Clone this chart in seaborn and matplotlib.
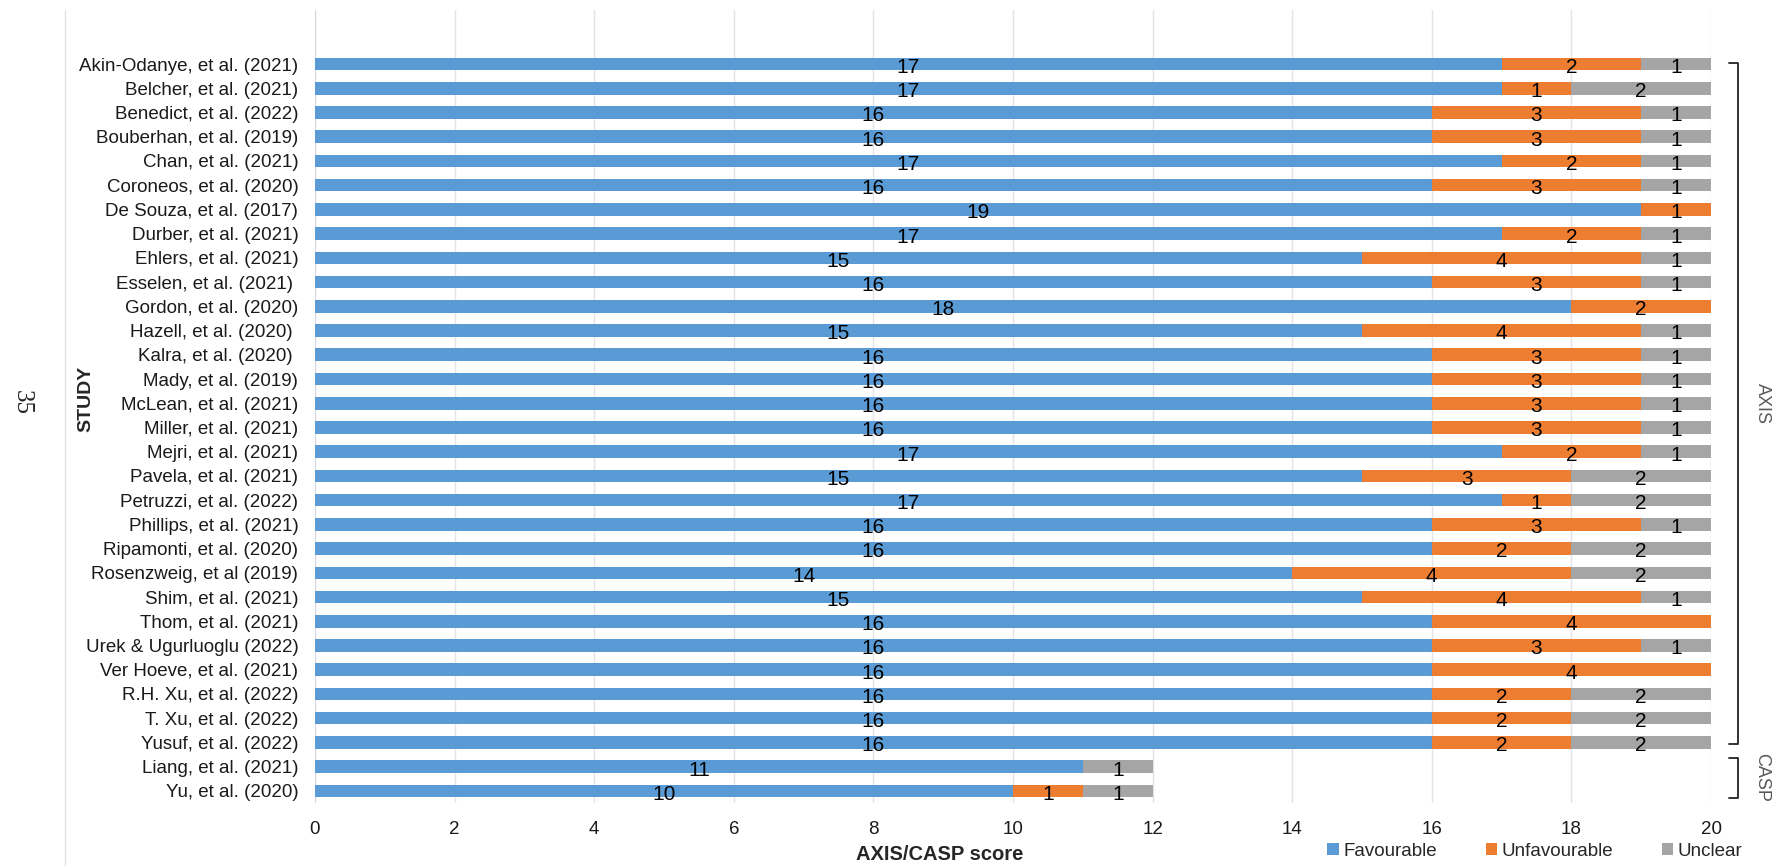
import matplotlib
matplotlib.use("Agg")
import matplotlib.pyplot as plt
import matplotlib.transforms as mtransforms
from matplotlib.patches import Patch
from matplotlib.lines import Line2D
import pandas as pd
import seaborn as sns

studies = [
    "Akin-Odanye, et al. (2021)", "Belcher, et al. (2021)", "Benedict, et al. (2022)",
    "Bouberhan, et al. (2019)", "Chan, et al. (2021)", "Coroneos, et al. (2020)",
    "De Souza, et al. (2017)", "Durber, et al. (2021)", "Ehlers, et al. (2021)",
    "Esselen, et al. (2021) ", "Gordon, et al. (2020)", "Hazell, et al. (2020) ",
    "Kalra, et al. (2020) ", "Mady, et al. (2019)", "McLean, et al. (2021)",
    "Miller, et al. (2021)", "Mejri, et al. (2021)", "Pavela, et al. (2021)",
    "Petruzzi, et al. (2022)", "Phillips, et al. (2021)", "Ripamonti, et al. (2020)",
    "Rosenzweig, et al (2019)", "Shim, et al. (2021)", "Thom, et al. (2021)",
    "Urek & Ugurluoglu (2022)", "Ver Hoeve, et al. (2021)", "R.H. Xu, et al. (2022)",
    "T. Xu, et al. (2022)", "Yusuf, et al. (2022)", "Liang, et al. (2021)",
    "Yu, et al. (2020)",
]
favourable = [17, 17, 16, 16, 17, 16, 19, 17, 15, 16, 18, 15, 16, 16, 16, 16,
              17, 15, 17, 16, 16, 14, 15, 16, 16, 16, 16, 16, 16, 11, 10]
unfavourable = [2, 1, 3, 3, 2, 3, 1, 2, 4, 3, 2, 4, 3, 3, 3, 3,
                2, 3, 1, 3, 2, 4, 4, 4, 3, 4, 2, 2, 2, 0, 1]
unclear = [1, 2, 1, 1, 1, 1, 0, 1, 1, 1, 0, 1, 1, 1, 1, 1,
           1, 2, 2, 1, 2, 2, 1, 0, 1, 0, 2, 2, 2, 1, 1]
series_names = ["Favourable", "Unfavourable", "Unclear"]
x_ticks = [0, 2, 4, 6, 8, 10, 12, 14, 16, 18, 20]
axis_group = 29  # first 29 studies are AXIS, rest CASP

colors = {"Favourable": "#5B9BD5", "Unfavourable": "#ED7D31", "Unclear": "#A5A5A5"}

df = pd.DataFrame({
    "study": studies,
    "Favourable": favourable,
    "Unfavourable": unfavourable,
    "Unclear": unclear,
})
df["fav_unf"] = df["Favourable"] + df["Unfavourable"]
df["total"] = df["fav_unf"] + df["Unclear"]

sns.set_theme(style="white")
plt.rcParams["font.family"] = ["Liberation Sans", "DejaVu Sans"]

W, H = 1791, 866
fig = plt.figure(figsize=(W / 100, H / 100), dpi=100)
ax = fig.add_axes([315 / W, 1 - 803 / H, (1711 - 315) / W, (803 - 10) / H])

# stacked horizontal bars: draw cumulative totals back to front
for col, name in [("total", "Unclear"), ("fav_unf", "Unfavourable"), ("Favourable", "Favourable")]:
    sns.barplot(data=df, x=col, y="study", orient="h", color=colors[name],
                width=0.52, saturation=1, ax=ax, zorder=3, linewidth=0)

# segment value labels
for i, row in df.iterrows():
    left = 0
    for name in series_names:
        v = row[name]
        if v > 0:
            ax.text(left + v / 2, i + 0.14, f"{v}", ha="center", va="center",
                    fontsize=15, color="black", zorder=5)
        left += v

ax.set_xlim(0, 20)
ax.set_ylim(30.5, -2.23)
ax.set_xticks(x_ticks)
ax.set_xticklabels([str(t) for t in x_ticks], fontsize=13.5, color="#1a1a1a")
ax.tick_params(axis="y", length=0, pad=12, labelsize=13.5, labelcolor="#1a1a1a")
ax.tick_params(axis="x", length=0, pad=13)
ax.grid(axis="x", color="#E3E3EA", linewidth=1, zorder=0)
ax.grid(axis="y", visible=False)
for s in ax.spines.values():
    s.set_visible(False)
ax.axvline(0, color="#D4D4DC", linewidth=1.2, zorder=1)

ax.set_ylabel("STUDY", fontsize=14, fontweight="bold", labelpad=0)
ax.yaxis.set_label_coords((94 - 315) / (1711 - 315), 0.51)
ax.set_xlabel("AXIS/CASP score", fontsize=14.5, fontweight="bold")
ax.xaxis.set_label_coords((940 - 315) / (1711 - 315), -(845 - 803) / (803 - 10))

# group brackets on the right: x in figure fraction, y in data rows
tr = mtransforms.blended_transform_factory(fig.transFigure, ax.transData)


def bracket(y0, y1, label, label_y):
    xs = [1729 / W, 1738 / W, 1738 / W, 1729 / W]
    ys = [y0, y0, y1, y1]
    ax.add_line(Line2D(xs, ys, transform=tr, color="#222222", linewidth=1.3, clip_on=False))
    ax.text(1762 / W, label_y, label, transform=tr, rotation=-90, ha="center",
            va="center", fontsize=13, color="#595959", clip_on=False)


bracket(-0.05, axis_group - 1 + 0.05, "AXIS", 14.0)
bracket(axis_group - 0.35, len(studies) - 1 + 0.3, "CASP", axis_group + 0.45)

# legend along the bottom right
handles = [Patch(facecolor=colors[n], edgecolor="none") for n in series_names]
fig.legend(handles, series_names, loc="center", bbox_to_anchor=(1535 / W, 1 - 851 / H),
           ncol=3, frameon=False, fontsize=13.5, handlelength=0.6, handleheight=0.6,
           handletextpad=0.25, columnspacing=2.6)

# page furniture: margin rule and page number
fig.add_artist(Line2D([65 / W, 65 / W], [0, 1 - 10 / H], transform=fig.transFigure,
                      color="#E2E2EA", linewidth=1))
fig.text(22 / W, 1 - 403 / H, "35", rotation=-90, ha="center", va="center",
         fontsize=18, family=["Liberation Serif", "DejaVu Serif"], color="#222222")

fig.savefig("out.png", dpi=100)
